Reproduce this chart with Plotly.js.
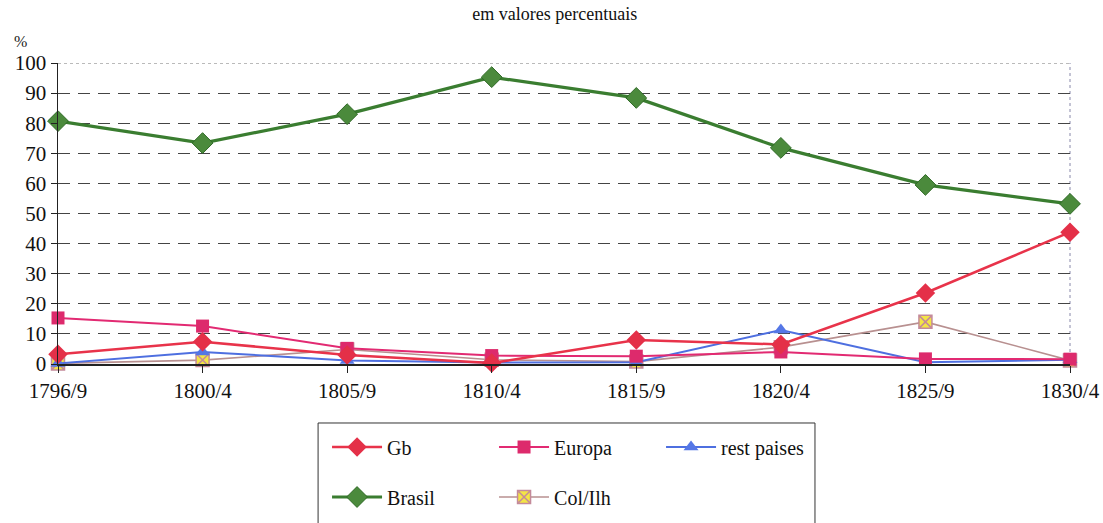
<!DOCTYPE html>
<html>
<head>
<meta charset="utf-8">
<script src="https://cdn.plot.ly/plotly-3.0.1.min.js"></script>
<style>html,body{margin:0;padding:0;background:#fff;}#chart{width:1103px;height:523px;}</style>
</head>
<body>
<div id="chart"></div>
<script>
const categories = ["1796/9","1800/4","1805/9","1810/4","1815/9","1820/4","1825/9","1830/4"];
const gb        = [3.2, 7.4, 3.0, 0.3, 8.0, 6.5, 23.6, 43.8];
const europa    = [15.3, 12.6, 5.2, 2.8, 2.6, 4.0, 1.7, 1.6];
const restPaises= [0.2, 4.0, 1.2, 0.5, 0.6, 11.3, 0.6, 1.4];
const brasil    = [80.7, 73.4, 83.0, 95.3, 88.4, 71.8, 59.5, 53.2];
const colIlh    = [0.2, 1.3, 4.8, 1.4, 0.8, 5.6, 14.0, 1.2];
const yTicks    = [0,10,20,30,40,50,60,70,80,90,100];

const serif = "Liberation Serif, DejaVu Serif, serif";

const traces = [
  {name:"Brasil", x:categories, y:brasil, type:"scatter", mode:"lines+markers", legend:"legend2",
   line:{color:"#3a7d30", width:3.2}, marker:{symbol:"diamond", size:16, color:"#4b8a3c", line:{color:"#2f6a26", width:1}}, cliponaxis:false},
  {name:"Col/Ilh", x:categories, y:colIlh, type:"scatter", mode:"lines+markers", legend:"legend2",
   line:{color:"#b89090", width:1.6}, marker:{symbol:"square-x", size:13, color:"#f3e545", line:{color:"#c48a9a", width:1.5}}, cliponaxis:false},
  {name:"rest paises", x:categories, y:restPaises, type:"scatter", mode:"lines+markers", legend:"legend",
   line:{color:"#4e6fe0", width:2}, marker:{symbol:"triangle-up", size:13, color:"#5577e6"}, cliponaxis:false},
  {name:"Europa", x:categories, y:europa, type:"scatter", mode:"lines+markers", legend:"legend",
   line:{color:"#e22a72", width:2}, marker:{symbol:"square", size:13, color:"#dd2a6c"}, cliponaxis:false},
  {name:"Gb", x:categories, y:gb, type:"scatter", mode:"lines+markers", legend:"legend",
   line:{color:"#e8334a", width:2.5}, marker:{symbol:"diamond", size:15, color:"#e43048"}, cliponaxis:false}
];

const legendCommon = {orientation:"h", xref:"container", yref:"container", xanchor:"left", yanchor:"middle",
  entrywidth:102, entrywidthmode:"pixels",
  font:{family:serif, size:20, color:"#111"}, bgcolor:"rgba(0,0,0,0)", itemwidth:50};

const layout = {
  width:1103, height:523,
  margin:{l:58, r:33, t:63, b:159},
  paper_bgcolor:"#fff", plot_bgcolor:"#fff",
  font:{family:serif},
  title:{text:"em valores percentuais", font:{family:serif, size:18, color:"#111"}, x:0.503, xanchor:"center", y:0.985, yanchor:"top"},
  xaxis:{type:"category", range:[0,7], showgrid:false, showline:true, linecolor:"#222", linewidth:1.5, automargin:false,
    ticks:"outside", ticklen:7, tickcolor:"#222", tickfont:{family:serif, size:21, color:"#111"}, zeroline:false, fixedrange:true},
  yaxis:{range:[0,100], tickvals:yTicks, showgrid:true, gridcolor:"#444", griddash:"12px,8px", gridwidth:1, automargin:false,
    showline:true, linecolor:"#222", linewidth:1.5, ticks:"outside", ticklen:6, tickcolor:"#222",
    tickfont:{family:serif, size:21, color:"#111"}, zeroline:false, fixedrange:true},
  showlegend:true,
  legend:Object.assign({}, legendCommon, {x:0.2965, y:0.1453, traceorder:"reversed"}),
  legend2:Object.assign({}, legendCommon, {x:0.2965, y:0.0497, traceorder:"normal"}),
  shapes:[
    {type:"line", xref:"paper", yref:"y", x0:0, x1:1, y0:100, y1:100, line:{color:"#fff", width:2}, layer:"below"},
    {type:"line", xref:"paper", yref:"y", x0:0, x1:1, y0:100, y1:100, line:{color:"#777", width:1, dash:"dot"}, layer:"below"},
    {type:"line", xref:"paper", yref:"paper", x0:1, x1:1, y0:0, y1:1, line:{color:"#8888aa", width:1, dash:"dot"}, layer:"below"},
    {type:"rect", xref:"paper", yref:"paper", x0:0.257, x1:0.748, y0:-0.196, y1:-0.56, line:{color:"#333", width:1}, fillcolor:"rgba(0,0,0,0)"}
  ],
  annotations:[
    {text:"%", xref:"paper", yref:"paper", x:-0.0366, y:1.072, xanchor:"center", yanchor:"middle", showarrow:false,
     font:{family:serif, size:16, color:"#222"}}
  ]
};

Plotly.newPlot("chart", traces, layout, {displayModeBar:false, staticPlot:true});
</script>
</body>
</html>
